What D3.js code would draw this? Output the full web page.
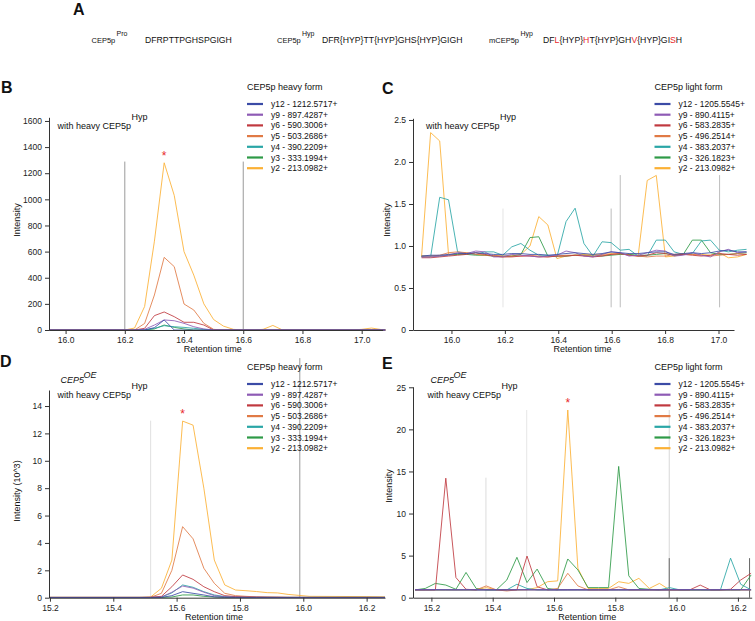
<!DOCTYPE html>
<html><head><meta charset="utf-8">
<script src="https://cdn.jsdelivr.net/npm/d3@7"></script>
<style>body{margin:0;background:#fff;} svg{display:block;}</style>
</head><body><svg id="c" width="755" height="621"></svg>
<script>
// ---------------- DATA ----------------
const ionKeys = ["y12","y9","y6","y5","y4","y3","y2"];
const heavyLabels = ["y12 - 1212.5717+","y9 - 897.4287+","y6 - 590.3006+","y5 - 503.2686+","y4 - 390.2209+","y3 - 333.1994+","y2 - 213.0982+"];
const lightLabels = ["y12 - 1205.5545+","y9 - 890.4115+","y6 - 583.2835+","y5 - 496.2514+","y4 - 383.2037+","y3 - 326.1823+","y2 - 213.0982+"];

// Panel B: heavy form, intensity
const tB = [15.944,16.167,16.2,16.233,16.267,16.3,16.333,16.367,16.4,16.433,16.467,16.5,16.533,16.567,16.6,16.633,16.667,16.7,16.733,16.967,17.0,17.033,17.067,17.08];
const B_y12 = [0,0,0,0,0,18,77,0,0,0,0,0,0,0,0,0,0,0,0,0,0,0,0,0];
const B_y9  = [0,0,0,0,5,38,77,71,51,25,8,0,0,0,0,0,0,0,0,0,0,0,0,0];
const B_y6  = [0,0,0,0,13,110,138,102,59,59,38,0,0,0,0,0,0,0,0,0,0,0,0,0];
const B_y5  = [0,0,0,0,50,268,556,485,199,153,51,5,0,0,0,0,0,0,0,0,0,0,0,0];
const B_y4  = [0,0,0,0,0,13,33,25,20,13,5,0,0,0,0,0,0,0,0,0,0,0,0,0];
const B_y3  = [0,0,0,0,0,8,38,20,8,0,0,0,0,0,0,0,0,0,0,0,0,0,0,0];
const B_y2  = [0,0,0,15,180,680,1280,1030,600,420,200,80,30,5,0,0,5,35,0,0,5,15,3,0];
const B_xTicks = [16.0,16.2,16.4,16.6,16.8,17.0];
const B_yTicks = [0,200,400,600,800,1000,1200,1400,1600];
const B_marks = [[16.2,1289,0],[16.6,1289,0]];
const B_star = [16.333,1280];

// Panel C: light form
const tC = [15.888,15.922,15.956,15.989,16.023,16.057,16.091,16.125,16.158,16.192,16.226,16.260,16.294,16.327,16.361,16.395,16.429,16.463,16.496,16.530,16.564,16.598,16.632,16.665,16.699,16.733,16.767,16.801,16.834,16.868,16.902,16.936,16.970,17.003,17.037,17.071,17.105];
const C_y12 = [.88,.89,.89,.90,.91,.91,.92,.91,.90,.90,.91,.91,.90,.90,.89,.90,.91,.92,.91,.90,.91,.93,.92,.91,.91,.92,.93,.93,.90,.91,.92,.91,.92,.94,.95,.93,.93];
const C_y9  = [.87,.87,.88,.89,.92,.91,.94,.93,.87,.87,.90,.89,.88,.87,.88,.89,.94,.92,.88,.87,.90,.93,.92,.88,.89,.92,.95,.94,.88,.89,.92,.89,.87,.93,.96,.92,.93];
const C_y6  = [.86,.86,.87,.88,.89,.90,.92,.90,.88,.87,.87,.88,.88,.87,.87,.88,.88,.89,.88,.87,.88,.90,.91,.89,.88,.89,.92,.91,.89,.90,.89,.88,.89,.91,.90,.89,.90];
const C_y5  = [.88,.88,.89,.92,.93,.92,.90,.89,.89,.88,.88,.88,.89,.88,.87,.88,.89,.89,.89,.88,.89,.90,.91,.89,.88,.87,.88,.88,.90,.91,.90,.89,.88,.89,.90,.91,.90];
const C_y4  = [.87,.87,1.58,1.55,.93,.91,.90,.93,.93,.89,.99,1.03,.95,.89,.89,.87,1.29,1.45,1.03,.88,1.05,1.04,.95,.96,.88,.88,1.07,1.07,.93,.90,.91,1.06,1.07,.95,.93,.95,.96];
const C_y3  = [.88,.88,.88,.89,.90,.90,.89,.89,.88,.88,.88,.90,1.10,1.11,.88,.88,.88,.89,.89,.88,.88,.89,.90,.90,.89,.89,.90,.91,.89,.90,1.07,1.07,.92,.90,.90,.91,.92];
const C_y2  = [.87,2.35,2.25,.90,.90,.92,.90,.89,.88,.87,.88,.90,1.00,1.35,1.25,.85,.88,.89,.90,.90,.90,.91,.90,.90,.88,1.78,1.84,.87,.88,.90,.90,.90,.89,.92,.86,.87,.90];
const C_xTicks = [16.0,16.2,16.4,16.6,16.8,17.0];
const C_yTicks = [0,0.5,1.0,1.5,2.0,2.5];
const C_marks = [[16.193,1.446,0.27],[16.598,1.446,0.27],[16.632,1.844,0.27],[17.004,1.844,0.27]];

// Panel D: CEP5 OE, heavy form, intensity (10^3)
const tD = [15.197,15.485,15.518,15.552,15.585,15.619,15.652,15.686,15.719,15.752,15.786,15.819,15.852,15.886,15.919,15.952,15.986,16.019,16.2,16.258];
const D_y12 = [0.02,0.02,0.02,0.02,0.15,0.44,0.32,0.2,0.06,0.03,0.02,0.02,0.02,0.02,0.02,0.02,0.02,0.02,0.02,0.02];
const D_y9  = [0.02,0.02,0.02,0.05,0.4,0.85,0.7,0.4,0.15,0.06,0.04,0.03,0.03,0.02,0.02,0.02,0.02,0.02,0.02,0.02];
const D_y6  = [0.02,0.02,0.03,0.1,0.8,1.66,1.34,0.8,0.44,0.15,0.08,0.05,0.04,0.03,0.03,0.02,0.02,0.02,0.02,0.02];
const D_y5  = [0.02,0.02,0.03,0.32,2.0,5.19,4.3,2.15,1.05,0.32,0.15,0.1,0.06,0.05,0.04,0.03,0.03,0.02,0.02,0.02];
const D_y4  = [0.02,0.02,0.02,0.05,0.35,0.93,0.76,0.44,0.2,0.08,0.05,0.04,0.03,0.03,0.02,0.02,0.02,0.02,0.02,0.02];
const D_y3  = [0.01,0.01,0.01,0.02,0.05,0.2,0.2,0.1,0.05,0.02,0.02,0.02,0.02,0.02,0.02,0.02,0.02,0.02,0.02,0.02];
const D_y2  = [0.03,0.03,0.05,0.69,2.75,12.9,12.6,8.0,2.75,0.93,0.56,0.51,0.45,0.37,0.35,0.24,0.17,0.1,0.08,0.06];
const D_xTicks = [15.2,15.4,15.6,15.8,16.0,16.2];
const D_yTicks = [0,2,4,6,8,10,12,14];
const D_marks = [[15.518,12.93,0],[15.989,17.5,0]];
const D_star = [15.619,12.9];

// Panel E: CEP5 OE, light form
const tE = [15.147,15.180,15.213,15.247,15.280,15.313,15.346,15.379,15.412,15.446,15.479,15.512,15.545,15.579,15.612,15.645,15.678,15.711,15.745,15.778,15.811,15.844,15.877,15.911,15.944,15.977,16.010,16.043,16.077,16.110,16.143,16.176,16.209,16.243];
const E_y12 = [.92,.92,.92,.92,.92,.92,.92,.92,.92,.92,.92,.92,.92,.92,.92,.92,.92,.92,.92,.92,.92,.92,.92,.92,.92,.92,.92,.92,.92,.92,.92,.92,.92,.92];
const E_y9  = [.96,.96,.97,.96,.95,.96,.96,.97,.96,.95,.96,.97,.96,.96,.95,.96,.97,.96,.96,.95,.96,.96,.97,.96,.95,.96,.96,.97,.96,.95,.96,.96,.97,.96];
const E_y6  = [.93,.93,.93,14.2,2.4,1.0,.93,.93,.93,.93,.93,4.95,1.3,.93,.93,.93,.93,.93,.93,.93,.93,.93,.93,.93,.93,.93,.93,.93,1.5,.93,.93,1.0,2.1,2.9];
const E_y5  = [.93,.93,.93,.93,.93,.93,.93,1.4,.93,.8,.93,.93,.93,.93,1.1,2.9,1.4,.93,.93,.93,1.3,.93,.93,.93,.93,.93,.93,.93,.93,.93,.93,.93,.93,.93];
const E_y4  = [.93,.93,.93,.93,.93,.93,.93,.93,.93,.93,1.6,1.1,.93,.93,.93,.93,.93,.93,.93,.93,.93,.93,.93,.93,.93,1.2,.93,.93,.93,.93,.93,4.7,1.6,.93];
const E_y3  = [.93,1.1,1.7,1.5,1.0,3.0,1.1,.93,.93,2.1,4.8,1.8,3.4,1.1,.93,4.6,3.3,1.2,1.2,1.2,15.6,2.6,1.1,1.0,.93,.95,.93,.93,.93,.93,.93,.93,.93,2.7];
const E_y2  = [.93,.93,.93,.93,.93,.93,.93,1.2,.93,.93,.93,.95,1.2,1.9,2.0,22.3,3.5,1.1,1.1,1.1,1.9,1.7,2.3,1.1,1.7,.93,.93,.93,.93,.93,.93,.93,.93,.93];
const E_xTicks = [15.2,15.4,15.6,15.8,16.0,16.2];
const E_yTicks = [0,5,10,15,20,25];
const E_marks = [[15.378,14.26,0],[15.511,22.3,0],[15.976,22.3,0],[15.976,4.7,0],[16.238,4.7,0]];
const E_star = [15.645,22.3];

// ---------------- STYLE ----------------
const FONT = '"Liberation Sans", Arial, Helvetica, sans-serif';
const ionColors = ["#3b4ba6","#8e5bb5","#c0393f","#e07a45","#2aa6a6","#2e9a47","#fbb034"];
const svg = d3.select("#c").attr("font-family", FONT);

function txt(x, y, s, size, opts = {}) {
  const t = svg.append("text").attr("x", x).attr("y", y).attr("font-size", size)
    .attr("fill", opts.fill || "#111").text(s);
  if (opts.weight) t.attr("font-weight", opts.weight);
  if (opts.italic) t.attr("font-style", "italic");
  if (opts.anchor) t.attr("text-anchor", opts.anchor);
  return t;
}

function drawPanel(p) {
  const x = d3.scaleLinear().domain(p.xDomain).range(p.xRange);
  const y = d3.scaleLinear().domain(p.yDomain).range(p.yRange);
  const g = svg.append("g");
  p.marks.forEach((m, i) => {
    g.append("line").attr("x1", x(m[0])).attr("x2", x(m[0]))
      .attr("y1", y(m[1])).attr("y2", y(m[2]))
      .attr("stroke", p.markColors[i]).attr("stroke-width", 1);
  });
  const line = d3.line().x((d, i) => x(p.t[i])).y(d => y(d));
  for (let i = p.series.length - 1; i >= 0; i--) {
    g.append("path").datum(p.series[i]).attr("d", line)
      .attr("fill", "none").attr("stroke", ionColors[i])
      .attr("stroke-width", 1).attr("stroke-opacity", 0.85)
      .attr("stroke-linejoin", "round");
  }
  const xa = d3.axisBottom(x).tickValues(p.xTicks).tickFormat(d3.format(".1f")).tickSize(4).tickSizeOuter(0);
  const ya = d3.axisLeft(y).tickValues(p.yTicks).tickFormat(p.yFmt).tickSize(4).tickSizeOuter(0);
  const gx = g.append("g").attr("transform", `translate(0,${p.yRange[0]})`).call(xa);
  const gy = g.append("g").attr("transform", `translate(${p.xRange[0]},0)`).call(ya);
  [gx, gy].forEach(a => {
    a.select(".domain").attr("stroke", "#333").attr("stroke-width", 1);
    a.selectAll(".tick line").attr("stroke", "#333");
    a.selectAll(".tick text").attr("font-size", 8.5).attr("fill", "#222").attr("font-family", FONT);
  });
  txt((p.xRange[0] + p.xRange[1]) / 2 + p.xtOff, p.yRange[0] + 22, "Retention time", 9, {anchor: "middle"});
  svg.append("text").attr("transform", `translate(${p.ytX},${p.ytY}) rotate(-90)`)
    .attr("text-anchor", "middle").attr("font-size", 9).attr("fill", "#111").text(p.yTitle);
  if (p.star) {
    txt(x(p.star[0]), y(p.star[1]) - 3, "*", 12, {fill: "#e8282b", anchor: "middle"});
  }
  const L = p.legend;
  txt(L.x, L.y0 - 12, L.title, 9);
  ionKeys.forEach((k, i) => {
    const yy = L.y0 + 2 + i * 10.7;
    svg.append("line").attr("x1", L.x).attr("x2", L.x + 16).attr("y1", yy).attr("y2", yy)
      .attr("stroke", ionColors[i]).attr("stroke-width", 2.2);
    txt(L.x + 24, yy + 3, L.labels[i], 8.5);
  });
  if (p.oe) {
    txt(p.annX + 3, p.annY - 15, "CEP5", 9, {italic: true});
    txt(p.annX + 26, p.annY - 20, "OE", 9, {italic: true});
  }
  txt(p.annX, p.annY, "with heavy CEP5p", 9);
  txt(p.annX + 74, p.annY - 9, "Hyp", 9);
}

// Panel letters
txt(73, 15, "A", 16, {weight: "bold"});
txt(1, 93, "B", 16, {weight: "bold"});
txt(382, 94, "C", 16, {weight: "bold"});
txt(0, 367, "D", 16, {weight: "bold"});
txt(382, 369, "E", 16, {weight: "bold"});

// Panel A sequence row
txt(91.5, 43, "CEP5p", 7.5);
txt(116.5, 36, "Pro", 7);
txt(145, 43, "DFRPTTPGHSPGIGH", 8.7);
txt(277, 43, "CEP5p", 7.5);
txt(302, 36, "Hyp", 7);
txt(322, 43, "DFR{HYP}TT{HYP}GHS{HYP}GIGH", 8.7);
txt(489, 43, "mCEP5p", 7.5);
txt(520.5, 36, "Hyp", 7);
const mSeq = [["DF","#111"],["L","#e8282b"],["{HYP}","#111"],["H","#e8282b"],["T{HYP}GH","#111"],["V","#e8282b"],["{HYP}GI","#111"],["S","#e8282b"],["H","#111"]];
const mt = svg.append("text").attr("x", 543).attr("y", 43).attr("font-size", 8.7);
mSeq.forEach(s => mt.append("tspan").attr("fill", s[1]).text(s[0]));

const fmtInt = d3.format("d");
drawPanel({
  t: tB, series: [B_y12,B_y9,B_y6,B_y5,B_y4,B_y3,B_y2],
  xDomain: [15.944, 17.071], xRange: [49, 382.7], yDomain: [0, 1628], yRange: [330, 117.3],
  xTicks: B_xTicks, yTicks: B_yTicks, yFmt: fmtInt,
  marks: B_marks, markColors: ["#9a9a9a","#9a9a9a"], star: B_star,
  yTitle: "Intensity", ytX: 20, ytY: 220, xtOff: -3,
  legend: {x: 247, y0: 102, title: "CEP5p heavy form", labels: heavyLabels},
  annX: 57.5, annY: 129
});
drawPanel({
  t: tC, series: [C_y12,C_y9,C_y6,C_y5,C_y4,C_y3,C_y2],
  xDomain: [15.856, 17.058], xRange: [413, 734], yDomain: [0, 2.52], yRange: [330, 118.3],
  xTicks: C_xTicks, yTicks: C_yTicks, yFmt: d => d === 0 ? "0" : d3.format(".1f")(d),
  marks: C_marks, markColors: ["#e4e4e4","#bdbdbd","#bdbdbd","#bdbdbd"], star: null,
  yTitle: "Intensity", ytX: 390, ytY: 220, xtOff: 9,
  legend: {x: 654.5, y0: 102, title: "CEP5p light form", labels: lightLabels},
  annX: 426, annY: 129
});
drawPanel({
  t: tD, series: [D_y12,D_y9,D_y6,D_y5,D_y4,D_y3,D_y2],
  xDomain: [15.197, 16.258], xRange: [49, 385], yDomain: [0, 15.17], yRange: [597.7, 390],
  xTicks: D_xTicks, yTicks: D_yTicks, yFmt: fmtInt,
  marks: D_marks, markColors: ["#e0e0e0","#9a9a9a"], star: D_star,
  yTitle: "Intensity (10^3)", ytX: 20, ytY: 491, xtOff: -3,
  legend: {x: 247, y0: 382, title: "CEP5p heavy form", labels: heavyLabels},
  annX: 57.5, annY: 398, oe: true
});
drawPanel({
  t: tE, series: [E_y12,E_y9,E_y6,E_y5,E_y4,E_y3,E_y2],
  xDomain: [15.140, 16.245], xRange: [413, 751.7], yDomain: [0, 25.07], yRange: [597.7, 386.7],
  xTicks: E_xTicks, yTicks: E_yTicks, yFmt: fmtInt,
  marks: E_marks, markColors: ["#dcdcdc","#e6e6e6","#d8d8d8","#666","#666"], star: E_star,
  yTitle: "Intensity", ytX: 392, ytY: 486, xtOff: 5,
  legend: {x: 654.5, y0: 382, title: "CEP5p light form", labels: lightLabels},
  annX: 427.5, annY: 398, oe: true
});
</script>
</body></html>
